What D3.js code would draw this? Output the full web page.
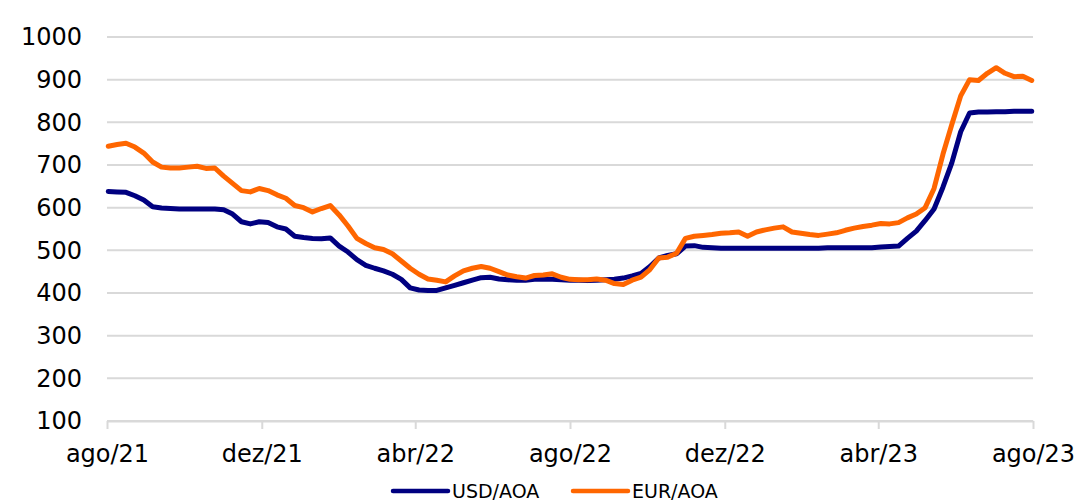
<!DOCTYPE html>
<html>
<head>
    <title>USD/AOA e EUR/AOA</title>
    <script src="https://d3js.org/d3.v7.min.js"></script>
    <style>
        body { margin: 0; background: #fff; }
        text { font-family: "DejaVu Sans", Verdana, sans-serif; }
    </style>
</head>
<body>
    <svg id="chart"></svg>

    <script>
        // weekly readings, first week starting 2021-08-02
        const startDate = "2021-08-02";

        const usdAoa = [
            638, 637, 636, 628, 618, 602, 599, 598, 597, 597,
            597, 597, 597, 595, 585, 567, 562, 567, 565, 555,
            550, 533, 530, 528, 527, 529, 510, 496, 478, 465,
            458, 452, 444, 432, 412, 407, 406, 406, 412, 418,
            424, 430, 436, 437, 433, 431, 430, 430, 432, 433,
            432, 431, 430, 430, 429, 430, 431, 432, 435, 440,
            446, 462, 482, 488, 492, 510, 511, 507, 506, 505,
            505, 505, 505, 505, 505, 505, 505, 505, 505, 505,
            505, 506, 506, 506, 506, 506, 506, 508, 509, 510,
            528, 545, 570, 597, 648, 705, 778, 822, 824, 824,
            825, 825, 826, 826, 826
        ];

        const eurAoa = [
            744, 748, 751, 742, 728, 707, 695, 693, 693, 695,
            697, 692, 693, 674, 657, 640, 637, 645, 640, 630,
            622, 605, 600, 590, 598, 605, 583, 557, 528, 516,
            506, 502, 492, 475, 458, 444, 433, 430, 426, 440,
            452, 458, 462, 458, 450, 442, 438, 435, 441, 442,
            445, 437, 432, 431, 431, 433, 430, 422, 420, 430,
            437, 455, 482, 484, 493, 528, 533, 535, 537, 540,
            541, 543, 533, 543, 548, 552, 555, 543, 540, 537,
            535, 538, 541, 547, 552, 556, 559, 563, 562, 565,
            576, 585, 600, 645, 725, 795, 862, 900, 898, 915,
            928, 915, 907, 908, 898
        ];

        const tickDates = ["2021-08-01", "2021-12-01", "2022-04-01", "2022-08-01",
                           "2022-12-01", "2023-04-01", "2023-08-01"];
        const tickLabels = ["ago/21", "dez/21", "abr/22", "ago/22", "dez/22", "abr/23", "ago/23"];
        const yTicks = [100, 200, 300, 400, 500, 600, 700, 800, 900, 1000];

        const seriesNames = ["USD/AOA", "EUR/AOA"];
        const seriesColors = ["#000080", "#ff6600"];

        const width = 1084;
        const height = 503;
        const margin = { top: 37, right: 51, bottom: 82, left: 107 };

        const parse = d3.timeParse("%Y-%m-%d");
        const t0 = parse(startDate);
        const dates = usdAoa.map((_, i) => d3.timeDay.offset(t0, i * 7));

        const svg = d3.select("#chart")
            .attr("width", width)
            .attr("height", height);

        const x = d3.scaleTime()
            .domain([parse(tickDates[0]), parse(tickDates[tickDates.length - 1])])
            .range([margin.left, width - margin.right]);

        const y = d3.scaleLinear()
            .domain([100, 1000])
            .range([height - margin.bottom, margin.top]);

        // grid
        svg.append("g")
            .selectAll("line")
            .data(yTicks)
            .join("line")
            .attr("x1", margin.left)
            .attr("x2", width - margin.right)
            .attr("y1", d => y(d))
            .attr("y2", d => y(d))
            .attr("stroke", "#d9d9d9")
            .attr("stroke-width", 2);

        // y labels
        const yAxis = svg.append("g")
            .attr("transform", `translate(${margin.left},0)`)
            .call(d3.axisLeft(y).tickValues(yTicks).tickFormat(d3.format("d"))
                .tickSize(0).tickPadding(25));
        yAxis.select(".domain").remove();
        yAxis.selectAll("text")
            .attr("font-size", 24)
            .attr("font-family", "DejaVu Sans, Verdana, sans-serif")
            .attr("fill", "#000");

        // x axis
        const xAxis = svg.append("g")
            .attr("transform", `translate(0,${y(100)})`)
            .call(d3.axisBottom(x)
                .tickValues(tickDates.map(parse))
                .tickFormat((d, i) => tickLabels[i])
                .tickSize(8)
                .tickPadding(16)
                .tickSizeOuter(0));
        xAxis.select(".domain").attr("stroke", "#d9d9d9").attr("stroke-width", 2);
        xAxis.selectAll(".tick line").attr("stroke", "#d9d9d9").attr("stroke-width", 2);
        xAxis.selectAll("text")
            .attr("font-size", 24)
            .attr("font-family", "DejaVu Sans, Verdana, sans-serif")
            .attr("fill", "#000");

        const line = d3.line()
            .x((d, i) => x(dates[i]))
            .y(d => y(d));

        [usdAoa, eurAoa].forEach((s, k) => {
            svg.append("path")
                .datum(s)
                .attr("d", line)
                .attr("fill", "none")
                .attr("stroke", seriesColors[k])
                .attr("stroke-width", 5)
                .attr("stroke-linejoin", "round")
                .attr("stroke-linecap", "round");
        });

        // legend
        const legendX = [393, 573];
        const legend = svg.append("g");
        seriesNames.forEach((name, k) => {
            legend.append("line")
                .attr("x1", legendX[k])
                .attr("x2", legendX[k] + 55)
                .attr("y1", 491)
                .attr("y2", 491)
                .attr("stroke", seriesColors[k])
                .attr("stroke-width", 4.5)
                .attr("stroke-linecap", "round");
            legend.append("text")
                .attr("x", legendX[k] + 59)
                .attr("y", 498)
                .attr("font-size", 19)
                .attr("fill", "#000")
                .text(name);
        });
    </script>
</body>
</html>
